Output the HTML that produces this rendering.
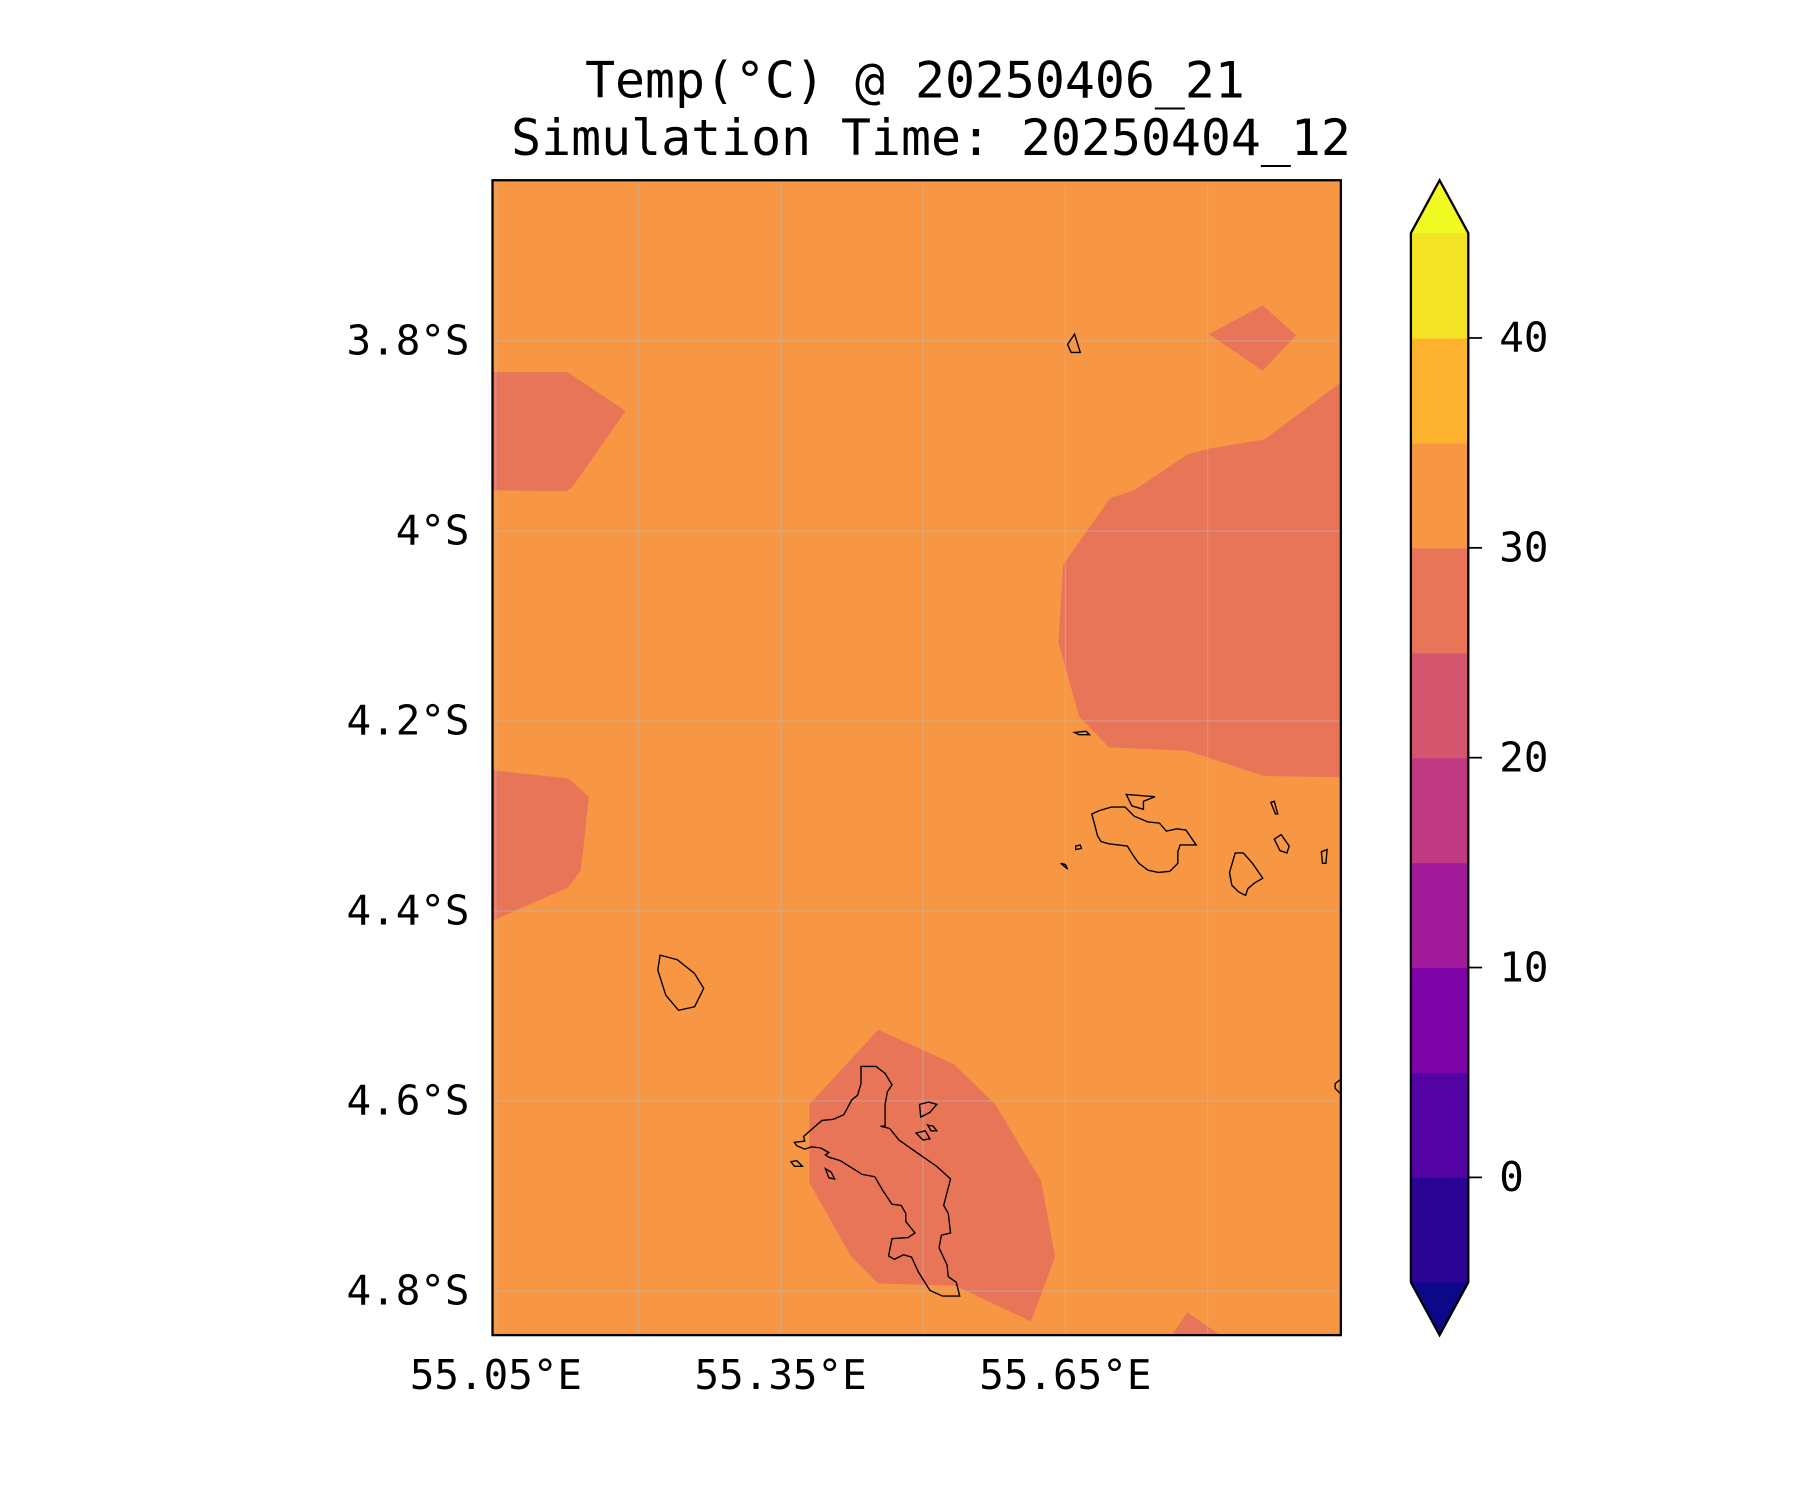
<!DOCTYPE html>
<html><head><meta charset="utf-8"><style>html,body{margin:0;padding:0;background:#fff}svg{display:block}text{font-family:"DejaVu Sans Mono","Liberation Mono",monospace;fill:#000}</style></head>
<body>
<svg id="chart" width="1800" height="1500" viewBox="0 0 1567.94 1306.62" xmlns="http://www.w3.org/2000/svg">
<rect width="1567.94" height="1306.62" fill="#fff"/>
<g>
<text x="797" y="85" font-size="43.4" text-anchor="middle">Temp(°C) @ 20250406_21</text>
<text x="811" y="135" font-size="43.4" text-anchor="middle">Simulation Time: 20250404_12</text>
</g>
<defs><clipPath id="pc"><rect x="429" y="157" width="739" height="1006"/></clipPath></defs>
<g id="map" clip-path="url(#pc)">
<rect x="429" y="157" width="739" height="1006" fill="#f79643"/>
<g fill="#e97559">
<polygon points="429,324 494,324 545,358 498,425 493,428 429,427"/>
<polygon points="429,671 495,678 513,694 506,758 495,773 429,802"/>
<polygon points="1053,291 1100,266 1129,292 1100,323"/>
<polygon points="1168,333 1136,357 1101,383 1052,391 1034,396 988,427 967,434 926,492 922,560 940,624 966,651 1034,654 1101,676 1168,677"/>
<polygon points="705,962 765,897 831,927 867,962 907,1029 919,1095 898,1151 832,1120 765,1118 741,1094 705,1030"/>
<polygon points="1021,1163 1034,1143 1063,1163"/>
</g>
<g id="grid" stroke="#bbb" stroke-opacity="0.5" stroke-width="1"></g>
<g fill="none" stroke="#000" stroke-width="1.2">
<polygon points="750,929 763,929 771,935 777,945 773,951 771,962 771,981 767,981 775,983 783,993 800,1005 816,1016 828,1027 822,1050 826,1057 828,1074 820,1076 818,1087 825,1102 826,1112 833,1117 836,1129 821,1129 810,1124 800,1108 794,1095 787,1093 779,1097 774,1094 777,1079 791,1078 797,1074 789,1064 789,1057 785,1050 777,1049 769,1037 762,1025 751,1023 732,1011 722,1008 719,1006 722,1004 715,1000 707,999 701,1001 694,998 692,995 701,994 700,990 709,982 716,976 726,975 735,971 742,958 747,954 750,944"/>
<polygon points="951,709 958,706 968,703 980,703 988,711 1000,716 1010,717 1016,724 1025,722 1033,723 1042,736 1028,736 1026,742 1026,752 1019,759 1009,760 1000,758 992,752 987,745 982,737 966,735 959,733 956,728 954,720"/>
<polygon points="575,832 590,836 605,848 613,861 605,877 591,880 580,867 573,845"/>
<polygon points="1076,743 1083,743 1091,752 1100,765 1093,769 1087,774 1085,780 1079,777 1073,771 1071,760"/>
<polygon points="981,692 1006,694 996,698 996,705 986,702"/>
<polygon points="930,300 936,291 941,307 933,307"/>
<polygon points="936,638 946,637 949,640 940,640"/>
<polygon points="1107,699 1110,698 1113,709 1111,709"/>
<polygon points="1110,731 1116,727 1123,737 1121,743 1115,741"/>
<polygon points="1151,742 1156,740 1155,752 1152,752"/>
<polygon points="924,752 928,753 930,757"/>
<polygon points="937,737 941,736 942,739 937,740"/>
<polygon points="801,962 809,960 816,962 810,969 802,973"/>
<polygon points="798,987 806,985 810,992 804,993"/>
<polygon points="808,980 813,981 816,985 811,985"/>
<polygon points="689,1012 694,1011 699,1016 692,1016"/>
<polygon points="719,1018 724,1021 727,1027 722,1026"/>
<polygon points="1163,944 1168,940 1168,953 1163,948"/>
</g>
</g>
<rect x="429" y="157" width="739" height="1006" fill="none" stroke="#000" stroke-width="2"/>
<g id="axes"></g>
<g id="cbar"></g>
</svg>
<script>
const lonTicks=[55.05,55.35,55.65];
const lonGrid=[55.05,55.20,55.35,55.50,55.65,55.80];
const latTicks=[3.8,4.0,4.2,4.4,4.6,4.8];
const latLabels=["3.8°S","4°S","4.2°S","4.4°S","4.6°S","4.8°S"];
const lonLabels=["55.05°E","55.35°E","55.65°E"];
const levels=[-5,0,5,10,15,20,25,30,35,40,45];
const levelColors=["#2a0593","#5302a3","#7e03a8","#a11b9b","#c03a83","#d5546e","#e97559","#f79643","#fdb32f","#f2e424"];
const cbTicks=[0,10,20,30,40];
const NS="http://www.w3.org/2000/svg";
function xLon(v){return 432+(v-55.05)/0.15*124;}
function yLat(v){return 297+(v-3.8)/0.2*165.5;}
function mk(t,a,p){const e=document.createElementNS(NS,t);for(const k in a)e.setAttribute(k,a[k]);p.appendChild(e);return e;}
const grid=document.getElementById('grid'),axes=document.getElementById('axes'),cb=document.getElementById('cbar');
lonGrid.forEach(v=>{const l=mk('line',{x1:xLon(v),x2:xLon(v),y1:157,y2:1163},grid);

});
latTicks.forEach(v=>{const l=mk('line',{x1:429,x2:1168,y1:yLat(v),y2:yLat(v)},grid);

});
latTicks.forEach((v,i)=>{const t=mk('text',{x:409,y:yLat(v)+12,'font-size':35.6,'text-anchor':'end'},axes);t.textContent=latLabels[i];

});
lonTicks.forEach((v,i)=>{const t=mk('text',{x:xLon(v),y:1210,'font-size':35.6,'text-anchor':'middle'},axes);t.textContent=lonLabels[i];

});
const cbx=1229,cbw=50,cbTop=203,cbBot=1117;
function yCb(v){return cbBot-(v-levels[0])/(levels[levels.length-1]-levels[0])*(cbBot-cbTop);}
for(let i=0;i<levelColors.length;i++){const r=mk('rect',{x:cbx,y:yCb(levels[i+1]),width:cbw,height:yCb(levels[i])-yCb(levels[i+1])+0.5,fill:levelColors[i]},cb);

}
const up=mk('polygon',{points:`${cbx},${cbTop} ${cbx+cbw/2},157 ${cbx+cbw},${cbTop}`,fill:'#f0f921'},cb);


const dn=mk('polygon',{points:`${cbx},${cbBot} ${cbx+cbw/2},1163 ${cbx+cbw},${cbBot}`,fill:'#0d0887'},cb);


const ol=mk('polygon',{points:`${cbx},${cbTop} ${cbx+cbw/2},157 ${cbx+cbw},${cbTop} ${cbx+cbw},${cbBot} ${cbx+cbw/2},1163 ${cbx},${cbBot}`,fill:'none',stroke:'#000','stroke-width':2},cb);


cbTicks.forEach(v=>{const y=yCb(v);mk('line',{x1:cbx+cbw,x2:cbx+cbw+12,y1:y,y2:y,stroke:'#000','stroke-width':1.5},cb);
const t=mk('text',{x:1306,y:y+12,'font-size':35.6},cb);t.textContent=String(v);

});
</script>
</body></html>
